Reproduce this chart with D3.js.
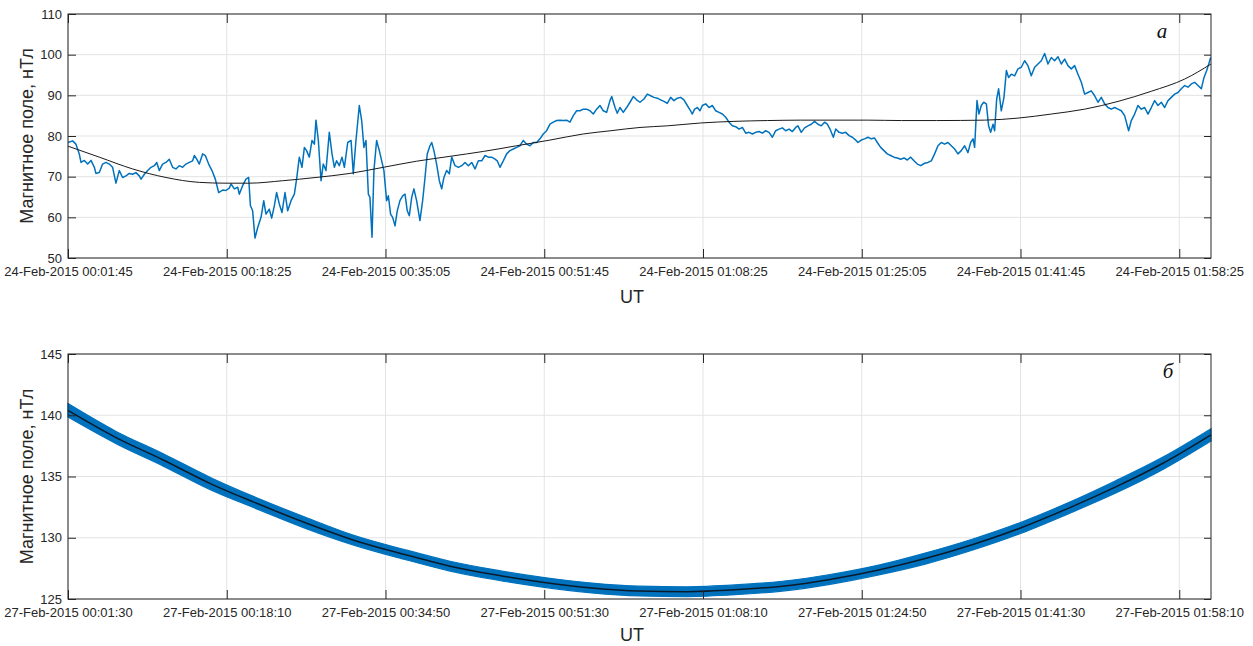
<!DOCTYPE html>
<html><head><meta charset="utf-8">
<script src="https://cdn.jsdelivr.net/npm/d3@7/dist/d3.min.js"></script>
<style>body{margin:0;background:#fff}svg{display:block}</style>
</head><body>
<svg id="c" width="1253" height="646"></svg>
<script>
// ---------- DATA ----------
const yLabel = "Магнитное поле, нТл";
const xLabel = "UT";
const topTickValues = [0,1000,2000,3000,4000,5000,6000,7000]; // seconds from 00:01:45
const topTickLabels = ["24-Feb-2015 00:01:45","24-Feb-2015 00:18:25","24-Feb-2015 00:35:05","24-Feb-2015 00:51:45","24-Feb-2015 01:08:25","24-Feb-2015 01:25:05","24-Feb-2015 01:41:45","24-Feb-2015 01:58:25"];
const botTickValues = [0,1000,2000,3000,4000,5000,6000,7000]; // seconds from 00:01:30
const botTickLabels = ["27-Feb-2015 00:01:30","27-Feb-2015 00:18:10","27-Feb-2015 00:34:50","27-Feb-2015 00:51:30","27-Feb-2015 01:08:10","27-Feb-2015 01:24:50","27-Feb-2015 01:41:30","27-Feb-2015 01:58:10"];
const topYTicks = [50,60,70,80,90,100,110];
const botYTicks = [125,130,135,140,145];

// panel a: measured field (time in s, value in nT)
const topT = [0,29,50,71,82,103,124,145,166,176,197,218,239,260,281,302,323,344,365,386,407,428,449,460,481,502,523,544,559,575,596,617,638,659,680,701,722,743,764,785,796,811,827,848,865,886,907,928,949,974,995,1016,1027,1048,1069,1079,1100,1121,1138,1149,1163,1178,1195,1216,1233,1247,1268,1283,1300,1314,1331,1348,1367,1384,1405,1426,1440,1457,1474,1489,1503,1520,1537,1552,1562,1577,1594,1608,1625,1646,1663,1678,1692,1709,1726,1741,1762,1783,
1797,1814,1835,1850,1864,1877,1892,1902,1915,1927,1944,1961,1976,1990,2007,2018,2032,2045,2060,2074,2091,2108,2123,2137,2150,2165,2179,2196,2217,2234,2249,2263,2280,2291,2305,2322,2339,2354,2368,2385,2402,2417,2438,2459,2480,2501,2522,2543,2564,2585,2606,2627,2648,2669,2690,2704,2721,2742,2763,2784,2805,2826,2847,2868,2889,2910,2931,2952,2973,2994,3015,3036,3057,3078,3099,3120,3141,3162,3183,3204,3225,3246,3267,3288,3309,3330,3351,3372,3393,3414,3425,3446,3460,3477,3498,3519,3540,3561,3582,3603,
3628,3649,3670,3691,3712,3733,3754,3775,3796,3817,3838,3859,3880,3901,3922,3933,3947,3964,3981,3996,4017,4038,4059,4080,4101,4122,4143,4164,4185,4206,4227,4248,4269,4290,4311,4332,4353,4374,4395,4416,4437,4458,4479,4500,4521,4542,4563,4584,4598,4619,4640,4661,4682,4703,4724,4745,4766,4783,4800,4821,4836,4857,4878,4899,4920,4941,4962,4976,4997,5018,5039,5060,5081,5098,5119,5140,5161,5182,5203,5224,5245,5266,5287,5308,5329,5350,5371,
5396,5417,5438,5459,5480,5501,5522,5543,5564,5585,5606,5627,5648,5669,5686,5701,5711,5726,5738,5753,5768,5785,5799,5812,5827,5837,5850,5862,5879,5896,5911,5925,5942,5963,5984,6005,6026,6047,6068,6089,6110,6131,6152,6173,6194,6215,6236,6257,6278,6299,6320,6341,6362,6383,6404,6425,6446,6467,6488,6509,6530,6551,6572,6593,6614,6635,6656,6681,6698,6719,6740,6761,6782,6803,6824,6845,6866,6887,6908,6929,6950,6971,6992,7013,7034,7055,7076,7097,7118,7139,7156,7173,7189,7198];
const topV = [78.4,78.8,78,75.6,73.5,74,73.1,74,72.3,70.8,71,73.1,73.5,73.1,72.3,68.4,71.5,69.8,70.2,70.8,70.6,71,70.2,69.4,70.6,71.5,72.3,72.7,73.5,71.5,73.1,73.5,74.3,72.3,71.9,72.7,72.3,73.1,73.5,73.9,75.2,74.3,73.1,75.6,75.2,73.1,71.5,69.4,66.1,66.7,66.6,67.2,68.2,67,67.4,65.7,67.8,69.4,69.8,62.9,61.6,54.9,57.5,60,64.1,60.8,62,59.8,62.9,66.1,63.3,61.2,66.1,61.6,64.1,65.7,69.4,74.8,72.3,77.2,76.4,74.8,78.9,78,83.9,78.9,69,73.1,71.5,80.9,75.6,72.3,73.9,72.7,74.8,72.3,78.4,78.9,
70.7,78.9,87.5,83.8,77.2,78.9,65.7,64.9,55.1,71.5,78.9,76.4,73.9,71.5,64.1,65.3,60.8,60,57.9,61.6,64.1,65.3,65.7,61.6,60.4,64.9,67,64.1,59.2,64.1,69.8,75.6,77.6,78.4,76.4,73.1,69,67,69.8,71.5,70.7,74.8,72.7,72.3,72.7,73.5,72.7,73.5,71.9,73.9,73.9,75.2,74.8,74.8,74.3,73.9,72.3,73.9,75.6,76.4,76.8,77.2,77.6,78.9,78,77.6,78.4,78.4,79.3,80.5,81.3,82.9,83.4,83.8,83.9,83.8,83.9,83.4,85,86.2,86.2,86.6,86.6,86.2,85.4,86.6,87.5,86.2,85.8,88.7,89.7,87,85.6,87,85.8,87,88.3,89.7,88.9,88.3,
89.1,90.3,89.9,89.5,89.3,88.9,88.5,88,89.5,88.7,89.3,89.5,88.9,87.5,86.2,85.4,86.6,87,86.2,87.5,87.9,87,87.5,86.2,85.8,85.4,84.6,83.4,82.5,82.3,81.7,82.1,80.7,80.9,80.5,80.9,81.1,80.7,81.3,80.9,79.7,81.3,81.7,82,81.3,81.7,81.1,82.1,82.5,80.9,82,82.5,82.9,83.6,82.9,82.5,83.4,82.9,81.7,79.7,81.7,80.9,80.7,80.9,80.1,79.7,79,78.4,79,79.3,79.7,79.3,79.5,78.4,77.2,76.4,75.6,75.2,74.8,74.6,74.3,74.6,74.1,74.8,73.9,73.1,72.7,
73.3,73.5,73.9,75.6,77.6,78.4,78,78.4,77.6,76.8,75.6,76.4,77.6,75.9,78.4,79.3,77.2,88.7,85.4,87.5,88.3,87.9,82.5,80.9,82.9,81.3,89.1,91.6,86.2,89.5,96.1,94.4,95.2,94.8,96.5,96.9,98.5,97.3,94.8,96.9,97.7,98.5,100.3,97.7,99.3,98.5,99.5,97.7,98.9,97.3,96.5,97.3,95.2,93.2,90.3,90.7,91.1,89.9,88.3,89.5,87.9,87,86.6,87,86.6,86.2,85,81.3,83.8,85.4,87.5,86.6,87,85.4,87,88.7,87.5,88.3,87,88.7,89.5,90.3,90.7,91.6,92.4,92,92.8,93.2,92.4,91.6,94.4,96.1,98.1,99.3];

// panel a: polynomial trend
const fitTopT = [0,197,407,617,827,995,1142,1352,1562,1776,1986,2196,2406,2616,2826,3036,3246,3420,3603,3775,3985,4195,4405,4615,4825,5035,5250,5470,5774,5984,6194,6404,6614,6824,7034,7200];
const fitTopV = [77.5,74.8,71.9,69.8,68.6,68.4,68.4,69,69.8,70.8,72.3,73.8,75,76.2,77.6,79,80.5,81.3,82.1,82.5,83.2,83.6,83.8,83.9,83.9,83.9,83.8,83.8,83.9,84.4,85.4,86.6,88.5,91,94,97.7];

// panel б: noisy band (lower / upper envelope) and trend
const botT   = [0,300,600,900,1200,1500,1800,2100,2400,2700,3000,3300,3600,3900,4200,4500,4800,5100,5400,5700,6000,6300,6600,6900,7200];
const botMid = [140.4,138.2,136.35,134.4,132.75,131.2,129.8,128.7,127.7,126.95,126.35,125.9,125.65,125.6,125.75,126.05,126.6,127.35,128.3,129.45,130.8,132.4,134.15,136.1,138.4];
const botLo  = [139.85,137.7,135.85,133.9,132.3,130.75,129.4,128.3,127.3,126.55,125.95,125.5,125.25,125.2,125.35,125.65,126.2,126.95,127.85,129.0,130.35,131.95,133.65,135.6,137.9];
const botHi  = [140.95,138.7,136.85,134.9,133.2,131.65,130.2,129.1,128.1,127.35,126.75,126.3,126.05,126.0,126.15,126.45,127.0,127.75,128.75,129.9,131.25,132.85,134.65,136.6,138.9];

// ---------- DRAW ----------
const svg = d3.select("#c");
const L = 68, R = 1211;
const blue = "#0072BD", axisCol = "#262626", gridCol = "#e3e3e3";
const FONT = "'Liberation Sans', Arial, sans-serif";

function panel(o) {
  const x = d3.scaleLinear().domain([0, 7200]).range([L, R]);
  const y = d3.scaleLinear().domain(o.yDomain).range([o.bottom, o.top]);
  const g = svg.append("g");
  // grid
  g.append("g").selectAll("line").data(o.xTicks).join("line")
    .attr("x1", d => x(d)).attr("x2", d => x(d)).attr("y1", o.top).attr("y2", o.bottom)
    .attr("stroke", gridCol).attr("stroke-width", 1);
  g.append("g").selectAll("line").data(o.yTicks).join("line")
    .attr("x1", L).attr("x2", R).attr("y1", d => y(d)).attr("y2", d => y(d))
    .attr("stroke", gridCol).attr("stroke-width", 1);
  o.drawData(g, x, y);
  // axes
  const ax = g.append("g").attr("transform", `translate(0,${o.bottom})`)
    .call(d3.axisBottom(x).tickValues(o.xTicks).tickFormat((d, i) => o.xLabels[i]).tickSize(-9).tickPadding(9));
  const axT = g.append("g").attr("transform", `translate(0,${o.top})`)
    .call(d3.axisTop(x).tickValues(o.xTicks).tickFormat("").tickSize(-9));
  const ay = g.append("g").attr("transform", `translate(${L},0)`)
    .call(d3.axisLeft(y).tickValues(o.yTicks).tickSize(-8).tickPadding(6));
  const ayR = g.append("g").attr("transform", `translate(${R},0)`)
    .call(d3.axisRight(y).tickValues(o.yTicks).tickFormat("").tickSize(-7));
  [ax, axT, ay, ayR].forEach(a => {
    a.select(".domain").remove();
    a.selectAll("line").attr("stroke", axisCol).attr("stroke-width", 1);
    a.selectAll("text").attr("fill", axisCol).style("font-family", FONT).style("font-size", "13px");
  });
  g.append("rect").attr("x", L).attr("y", o.top).attr("width", R - L).attr("height", o.bottom - o.top)
    .attr("fill", "none").attr("stroke", axisCol).attr("stroke-width", 1);
  // labels
  g.append("text").attr("transform", `translate(33,${(o.top + o.bottom) / 2}) rotate(-90)`)
    .attr("text-anchor", "middle").style("font-family", FONT).style("font-size", "18px")
    .attr("fill", axisCol).text(yLabel);
  g.append("text").attr("x", 632).attr("y", o.xLabelY).attr("text-anchor", "middle")
    .style("font-family", FONT).style("font-size", "18px").attr("fill", axisCol).text(xLabel);
  g.append("text").attr("x", o.tagX).attr("y", o.tagY).attr("text-anchor", "middle")
    .style("font-family", "'Liberation Serif', 'Times New Roman', serif").style("font-style", "italic")
    .style("font-size", "21px").attr("fill", "#111").text(o.tag);
}

panel({
  top: 14, bottom: 258, yDomain: [50, 110], yTicks: topYTicks,
  xTicks: topTickValues, xLabels: topTickLabels, xLabelY: 303,
  tag: "а", tagX: 1162, tagY: 38,
  drawData(g, x, y) {
    const pts = topT.map((t, i) => [t, topV[i]]);
    g.append("path").datum(pts).attr("fill", "none").attr("stroke", blue).attr("stroke-width", 1.5)
      .attr("stroke-linejoin", "round")
      .attr("d", d3.line().x(d => x(d[0])).y(d => y(d[1])));
    const fit = fitTopT.map((t, i) => [t, fitTopV[i]]);
    g.append("path").datum(fit).attr("fill", "none").attr("stroke", "#1a1a1a").attr("stroke-width", 1)
      .attr("d", d3.line().curve(d3.curveMonotoneX).x(d => x(d[0])).y(d => y(d[1])));
  }
});

panel({
  top: 354, bottom: 599, yDomain: [125, 145], yTicks: botYTicks,
  xTicks: botTickValues, xLabels: botTickLabels, xLabelY: 641,
  tag: "б", tagX: 1168, tagY: 378,
  drawData(g, x, y) {
    const band = botT.map((t, i) => [t, botLo[i], botHi[i]]);
    g.append("path").datum(band).attr("fill", blue).attr("stroke", blue).attr("stroke-width", 1.2)
      .attr("d", d3.area().curve(d3.curveMonotoneX).x(d => x(d[0])).y0(d => y(d[1])).y1(d => y(d[2])));
    const mid = botT.map((t, i) => [t, botMid[i]]);
    g.append("path").datum(mid).attr("fill", "none").attr("stroke", "#0b1a2a").attr("stroke-width", 1.5)
      .attr("d", d3.line().curve(d3.curveMonotoneX).x(d => x(d[0])).y(d => y(d[1])));
  }
});
</script>
</body></html>
